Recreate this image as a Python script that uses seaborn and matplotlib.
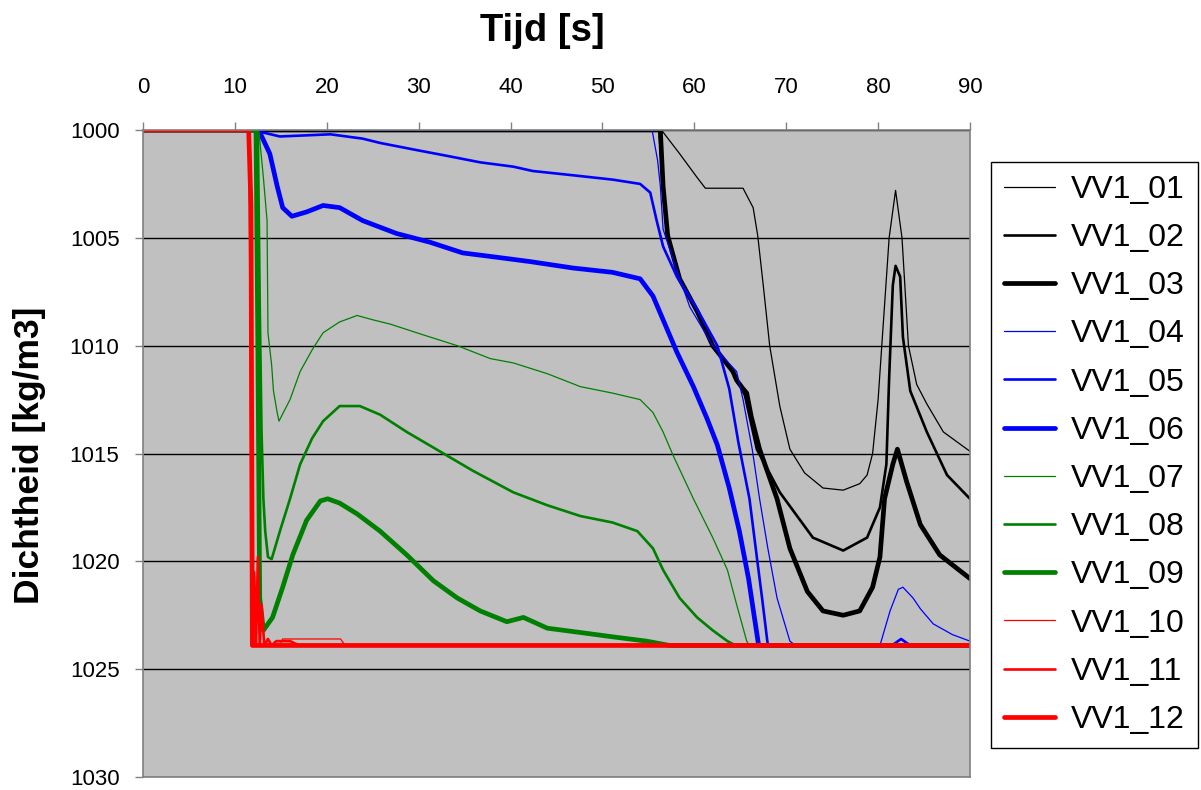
import matplotlib
matplotlib.use("Agg")
import matplotlib.pyplot as plt
import seaborn as sns
import numpy as np
import pandas as pd

# ---------------- data ----------------
names = ["VV1_01", "VV1_02", "VV1_03", "VV1_04", "VV1_05", "VV1_06",
         "VV1_07", "VV1_08", "VV1_09", "VV1_10", "VV1_11", "VV1_12"]

T01 = [0, 56.3, 56.6, 58.4, 60.3, 61.2, 65.3, 66.4, 66.9, 67.5, 68.2, 69.3, 70.4, 72.0, 74.0, 76.2, 78.0, 78.8, 79.4, 80.0, 80.4, 81.2, 81.9, 82.6, 83.3, 84.2, 85.3, 87.1, 90]
D01 = [1000, 1000, 1000.1, 1001.1, 1002.2, 1002.7, 1002.7, 1003.6, 1004.9, 1007.2, 1010.0, 1012.8, 1014.8, 1015.9, 1016.6, 1016.7, 1016.4, 1016.0, 1015.0, 1012.5, 1010.0, 1005.0, 1002.8, 1005.0, 1010.0, 1011.8, 1012.7, 1014.0, 1014.9]

T02 = [0, 56.2, 56.6, 57.1, 58.4, 60.3, 62.0, 64.2, 65.5, 66.8, 69.3, 72.9, 76.2, 78.8, 80.2, 80.9, 81.2, 81.6, 81.9, 82.4, 82.7, 83.5, 85.3, 87.5, 90]
D02 = [1000, 1000, 1002.6, 1004.9, 1006.9, 1008.4, 1010.0, 1011.2, 1012.3, 1014.8, 1016.8, 1018.9, 1019.5, 1018.9, 1017.5, 1015.5, 1011.5, 1007.2, 1006.3, 1006.8, 1009.6, 1012.1, 1014.0, 1016.0, 1017.1]

T03 = [0, 56.3, 56.6, 57.1, 58.4, 60.3, 62.0, 64.2, 64.6, 65.3, 65.7, 66.2, 67.1, 69.0, 70.4, 72.3, 74.0, 76.2, 78.0, 79.4, 80.2, 80.7, 81.6, 82.1, 83.1, 84.6, 86.7, 90]
D03 = [1000, 1000, 1002.6, 1004.9, 1006.9, 1008.4, 1010.0, 1011.2, 1011.6, 1012.0, 1012.2, 1013.3, 1014.8, 1017.1, 1019.4, 1021.4, 1022.3, 1022.5, 1022.3, 1021.2, 1019.8, 1017.1, 1015.5, 1014.8, 1016.3, 1018.3, 1019.7, 1020.8]

T04 = [0, 55.4, 56.0, 56.3, 56.6, 57.7, 59.5, 62.0, 64.6, 65.3, 66.3, 67.1, 68.0, 69.0, 70.4, 71.0, 80.2, 81.3, 82.2, 82.7, 83.8, 84.6, 86.0, 88.1, 90]
D04 = [1000, 1000, 1001.4, 1002.6, 1004.6, 1006.0, 1008.2, 1010.0, 1011.2, 1012.5, 1014.8, 1017.1, 1019.4, 1021.7, 1023.7, 1023.9, 1023.9, 1022.3, 1021.3, 1021.2, 1021.7, 1022.2, 1022.9, 1023.4, 1023.7]

T05 = [0, 12.5, 12.9, 14.9, 20.4, 23.9, 25.8, 29.4, 33.1, 36.7, 40.3, 42.4, 46.8, 51.1, 54.1, 55.2, 55.9, 56.6, 58.1, 60.3, 62.5, 63.8, 64.8, 66.0, 66.8, 67.4, 68.0, 81.5, 82.5, 83.5, 90]
D05 = [1000, 1000, 1000.1, 1000.3, 1000.2, 1000.4, 1000.6, 1000.9, 1001.2, 1001.5, 1001.7, 1001.9, 1002.1, 1002.3, 1002.5, 1002.9, 1004.2, 1005.4, 1006.8, 1008.3, 1010.0, 1012.0, 1014.5, 1017.1, 1019.8, 1021.8, 1023.9, 1023.9, 1023.6, 1023.9, 1023.9]

T06 = [0, 12.5, 12.7, 13.8, 14.6, 15.2, 16.2, 17.8, 19.6, 21.4, 23.9, 27.6, 31.2, 34.8, 38.5, 42.1, 46.8, 51.1, 54.1, 55.5, 56.6, 58.1, 59.9, 61.4, 62.5, 63.8, 64.9, 65.9, 66.5, 67.0, 90]
D06 = [1000, 1000, 1000.1, 1001.1, 1002.6, 1003.6, 1004.0, 1003.8, 1003.5, 1003.6, 1004.2, 1004.8, 1005.2, 1005.7, 1005.9, 1006.1, 1006.4, 1006.6, 1006.9, 1007.7, 1008.8, 1010.3, 1011.9, 1013.4, 1014.6, 1016.6, 1018.6, 1020.8, 1022.5, 1023.9, 1023.9]

T07 = [0, 12.6, 13.1, 13.5, 13.6, 14.0, 14.2, 14.6, 14.8, 16.0, 17.1, 18.4, 19.6, 21.4, 23.3, 25.0, 26.9, 30.5, 34.2, 37.8, 40.3, 44.0, 47.6, 51.1, 54.1, 55.5, 56.6, 57.7, 59.9, 62.0, 63.6, 64.6, 65.7, 66.0, 90]
D07 = [1000, 1000, 1002.2, 1004.2, 1009.4, 1010.9, 1012.1, 1013.1, 1013.5, 1012.5, 1011.2, 1010.2, 1009.4, 1008.9, 1008.6, 1008.8, 1009.0, 1009.5, 1010.0, 1010.6, 1010.8, 1011.3, 1011.9, 1012.2, 1012.5, 1013.1, 1014.0, 1015.1, 1017.1, 1018.9, 1020.4, 1022.0, 1023.7, 1023.9, 1023.9]

T08 = [0, 12.5, 12.7, 12.9, 13.1, 13.3, 13.6, 14.0, 14.9, 16.0, 17.1, 18.4, 19.6, 21.4, 23.6, 25.8, 28.7, 32.3, 35.9, 40.3, 44.0, 47.6, 51.1, 53.8, 55.5, 56.6, 58.4, 60.3, 62.0, 63.6, 64.5, 90]
D08 = [1000, 1000, 1008.0, 1014.0, 1017.1, 1018.6, 1019.8, 1019.9, 1018.6, 1017.1, 1015.5, 1014.3, 1013.5, 1012.8, 1012.8, 1013.2, 1014.0, 1014.9, 1015.8, 1016.8, 1017.4, 1017.9, 1018.2, 1018.6, 1019.4, 1020.4, 1021.7, 1022.6, 1023.2, 1023.7, 1023.9, 1023.9]

T09 = [0, 12.3, 12.5, 12.7, 13.1, 14.1, 15.2, 16.3, 17.8, 19.3, 20.1, 21.4, 23.3, 25.8, 28.7, 31.6, 34.2, 36.7, 39.6, 41.4, 44.0, 47.6, 51.1, 54.8, 57.3, 90]
D09 = [1000, 1000, 1010.0, 1021.7, 1023.2, 1022.6, 1021.2, 1019.7, 1018.1, 1017.2, 1017.1, 1017.3, 1017.8, 1018.6, 1019.7, 1020.9, 1021.7, 1022.3, 1022.8, 1022.6, 1023.1, 1023.3, 1023.5, 1023.7, 1023.9, 1023.9]

T10 = [0, 11.5, 11.8, 12.1, 14.9, 15.2, 21.5, 22.0, 90]
D10 = [1000, 1000, 1015.0, 1023.9, 1023.9, 1023.6, 1023.6, 1023.9, 1023.9]

T11 = [0, 11.6, 11.9, 12.1, 12.3, 12.5, 12.7, 12.9, 13.2, 13.6, 14.0, 14.5, 16.0, 17.0, 90]
D11 = [1000, 1000, 1023.9, 1020.5, 1023.9, 1019.8, 1023.9, 1022.0, 1023.9, 1023.6, 1023.9, 1023.7, 1023.7, 1023.9, 1023.9]

T12 = [0, 11.5, 11.75, 11.9, 90]
D12 = [1000, 1000, 1003.5, 1023.9, 1023.9]

times = [T01, T02, T03, T04, T05, T06, T07, T08, T09, T10, T11, T12]
dens = [D01, D02, D03, D04, D05, D06, D07, D08, D09, D10, D11, D12]

x_ticks = [0, 10, 20, 30, 40, 50, 60, 70, 80, 90]
y_ticks = [1000, 1005, 1010, 1015, 1020, 1025, 1030]

# ---------------- style ----------------
sns.set_style("white")
plt.rcParams['font.family'] = ['Liberation Sans', 'DejaVu Sans']
plt.rcParams['text.color'] = 'black'
plt.rcParams['xtick.color'] = 'black'
plt.rcParams['ytick.color'] = 'black'
plt.rcParams['axes.labelcolor'] = 'black'

colors = ["#000000"] * 3 + ["#0000FF"] * 3 + ["#008000"] * 3 + ["#FF0000"] * 3
widths = [0.9, 1.9, 3.4] * 4

fig = plt.figure(figsize=(12.01, 7.90), dpi=100)
ax = fig.add_axes([143 / 1201, 13 / 790, 827 / 1201, 647 / 790])
ax.set_facecolor("#C0C0C0")

handles = []
for name, t, d, c, w in zip(names, times, dens, colors, widths):
    df = pd.DataFrame({"t": t, "rho": d})
    sns.lineplot(data=df, x="t", y="rho", ax=ax, color=c, linewidth=w,
                 estimator=None, sort=False, legend=False)
    ln = ax.get_lines()[-1]
    ln.set_label(name)
    handles.append(ln)

ax.set_xlim(0, 90)
ax.set_ylim(1030, 1000)
ax.set_xticks(x_ticks)
ax.set_yticks(y_ticks)
ax.xaxis.tick_top()
ax.set_xlabel("")
ax.set_ylabel("")
ax.yaxis.grid(True, color="black", linewidth=1.0)
ax.xaxis.grid(False)
ax.set_axisbelow(True)
for s in ax.spines.values():
    s.set_color("#808080")
    s.set_linewidth(1.2)
ax.tick_params(axis="x", direction="out", length=6, width=1, color="#808080",
               labelsize=16, labelcolor="black", pad=17, top=True, bottom=False)
ax.tick_params(axis="y", direction="out", length=6, width=1, color="#808080",
               labelsize=16, labelcolor="black", pad=11, left=True)

fig.text(542 / 1201, 1 - 31 / 790, "Tijd [s]", ha="center", va="center",
         fontsize=27.5, fontweight="bold", color="black")
fig.text(30 / 1201, 1 - 455 / 790, "Dichtheid [kg/m3]", ha="center", va="center",
         rotation=90, fontsize=25.5, fontweight="bold", color="black")

leg = fig.legend(handles=handles, labels=names, loc="upper left",
                 bbox_to_anchor=(991 / 1201, 1 - 162 / 790), borderaxespad=0,
                 frameon=True, fancybox=False, edgecolor="black",
                 facecolor="white", framealpha=1, fontsize=23,
                 handlelength=1.6, handletextpad=0.5, labelspacing=0.57,
                 borderpad=0.4)
leg.get_frame().set_linewidth(1.0)

fig.savefig("out.png", dpi=100)
